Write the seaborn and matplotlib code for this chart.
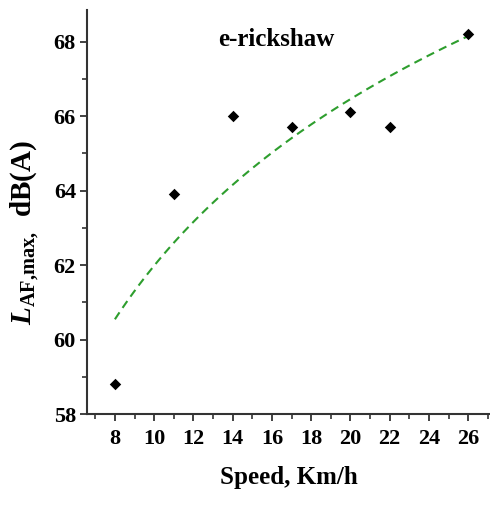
import numpy as np
import pandas as pd
import matplotlib
matplotlib.use("Agg")
import matplotlib.pyplot as plt
import seaborn as sns
from matplotlib.ticker import MultipleLocator

speed = [8, 11, 14, 17, 20, 22, 26]
level = [58.8, 63.9, 66.0, 65.7, 66.1, 65.7, 68.2]
x_ticks = [8, 10, 12, 14, 16, 18, 20, 22, 24, 26]
y_ticks = [58, 60, 62, 64, 66, 68]

sns.set_theme(style="ticks")
plt.rcParams['font.family'] = ['Liberation Serif', 'DejaVu Serif']
plt.rcParams['font.weight'] = 'bold'
plt.rcParams['text.color'] = 'black'
plt.rcParams['axes.labelcolor'] = 'black'
plt.rcParams['xtick.labelcolor'] = 'black'
plt.rcParams['ytick.labelcolor'] = 'black'
plt.rcParams['mathtext.fontset'] = 'custom'
plt.rcParams['mathtext.rm'] = 'Liberation Serif:bold'
plt.rcParams['mathtext.it'] = 'Liberation Serif:bold:italic'
plt.rcParams['mathtext.bf'] = 'Liberation Serif:bold'

df = pd.DataFrame({"speed": speed, "level": level})

fig = plt.figure(figsize=(4.9, 5.05), dpi=100)
ax = fig.add_axes([0.1776, 0.180, 0.822, 0.800])

sns.regplot(data=df, x="speed", y="level", logx=True, ci=None, scatter=False,
            ax=ax, line_kws=dict(color="#2e9e2e", lw=1.5, ls=(0, (4, 2.6))))
sns.scatterplot(data=df, x="speed", y="level", marker="D", s=34, color="black",
                edgecolor="black", linewidth=0, ax=ax, zorder=3)

ax.set_xlim(6.58, 27.1)
ax.set_ylim(58, 68.85)
ax.set_xticks(x_ticks)
ax.set_yticks(y_ticks)
ax.xaxis.set_minor_locator(MultipleLocator(1))
ax.yaxis.set_minor_locator(MultipleLocator(1))

for s in ["top", "right"]:
    ax.spines[s].set_visible(False)
for s in ["left", "bottom"]:
    ax.spines[s].set_color("#333333")
    ax.spines[s].set_linewidth(1.5)

ax.tick_params(which="major", length=5, width=1.3, color="#333333",
               labelsize=16, direction="out", labelcolor="black")
ax.tick_params(which="minor", length=3.5, width=1.2, color="#333333", direction="out")
ax.tick_params(axis="x", which="major", pad=6)
ax.tick_params(axis="y", which="major", pad=3)
for lab in ax.get_xticklabels() + ax.get_yticklabels():
    lab.set_fontweight("bold")

ax.set_xlabel("Speed, Km/h", fontsize=18, fontweight="bold", labelpad=12, color="black")
ax.set_ylabel(r"$\mathit{L}_{\mathrm{AF{,}max{,}}}$  dB(A)", fontsize=21,
              fontweight="bold", color="black")
ax.yaxis.set_label_coords(-0.115, 0.45)

ax.text(16.2, 68.05, "e-rickshaw", fontsize=18, fontweight="bold",
        ha="center", va="center", color="black")

fig.savefig("out.png", dpi=100)
